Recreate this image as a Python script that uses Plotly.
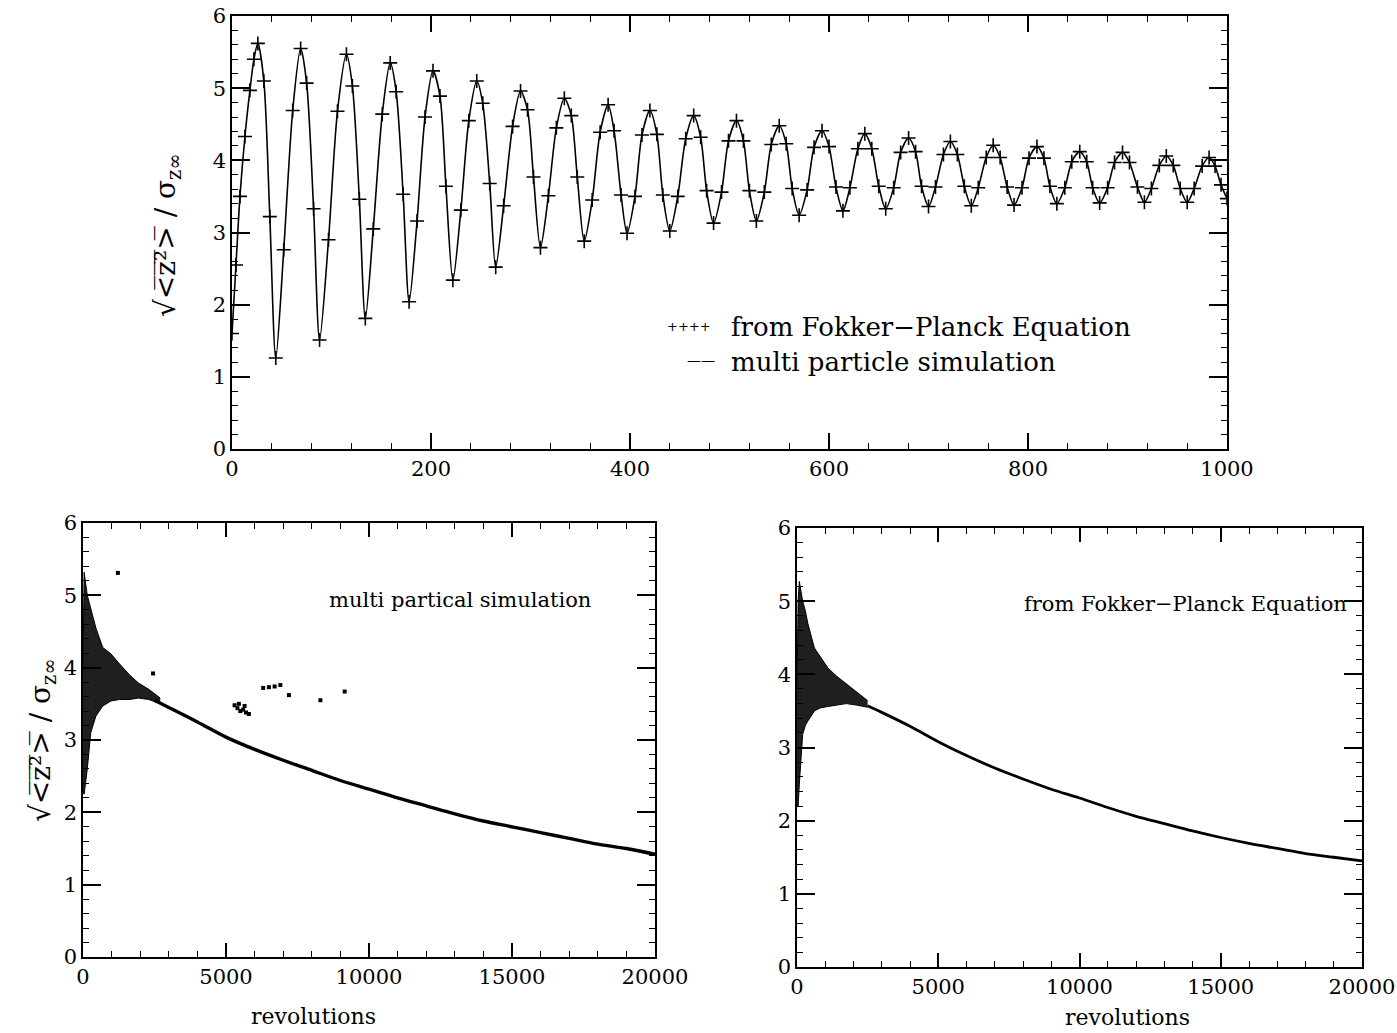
import plotly.graph_objects as go

# ---------------- top panel: first 1000 revolutions ----------------
top_rev = [0, 4, 8, 13, 18, 22,
           26, 32, 38, 44, 52, 61, 69, 75, 82, 88, 97, 106,
           115, 121, 128, 134, 142, 151, 159, 165, 172, 178, 186, 194,
           202, 209, 215, 222, 230, 238, 246, 252, 259, 265, 273, 282,
           290, 297, 303, 310, 318, 326, 334, 341, 347, 354, 362, 370,
           378, 384, 391, 397, 405, 412, 420, 427, 433, 440, 448, 456,
           464, 471, 477, 484, 492, 499, 507, 514, 520, 527, 535, 542,
           550, 557, 563, 570, 578, 585, 593, 600, 607, 614, 621, 629,
           636, 643, 650, 657, 665, 672, 680, 687, 693, 700, 707, 715,
           722, 729, 736, 743, 750, 758, 765, 772, 779, 786, 794, 801,
           809, 816, 822, 829, 837, 844, 852, 859, 865, 872, 880, 887,
           895, 902, 910, 917, 924, 932, 939, 946, 953, 960, 967, 975,
           982, 988, 994, 1000]
top_fokker_planck = [1.60, 2.55, 3.50, 4.33, 4.97, 5.40,
                     5.62, 5.10, 3.22, 1.26, 2.76, 4.69, 5.55, 5.07, 3.33, 1.51, 2.90, 4.68,
                     5.47, 5.03, 3.46, 1.81, 3.05, 4.64, 5.35, 4.95, 3.53, 2.04, 3.16, 4.60,
                     5.24, 4.89, 3.64, 2.34, 3.31, 4.55, 5.10, 4.79, 3.68, 2.52, 3.37, 4.47,
                     4.96, 4.70, 3.77, 2.79, 3.51, 4.45, 4.86, 4.62, 3.77, 2.88, 3.45, 4.39,
                     4.77, 4.41, 3.52, 2.99, 3.50, 4.35, 4.69, 4.36, 3.52, 3.02, 3.50, 4.30,
                     4.62, 4.32, 3.58, 3.13, 3.56, 4.27, 4.55, 4.27, 3.58, 3.16, 3.56, 4.22,
                     4.48, 4.23, 3.61, 3.24, 3.59, 4.18, 4.41, 4.19, 3.63, 3.30, 3.62, 4.16,
                     4.37, 4.16, 3.64, 3.33, 3.62, 4.11, 4.31, 4.12, 3.64, 3.36, 3.63, 4.08,
                     4.26, 4.08, 3.64, 3.37, 3.62, 4.04, 4.21, 4.04, 3.63, 3.38, 3.62, 4.03,
                     4.19, 4.03, 3.64, 3.40, 3.62, 3.98, 4.12, 3.98, 3.62, 3.41, 3.62, 3.97,
                     4.11, 3.97, 3.63, 3.42, 3.61, 3.93, 4.06, 3.93, 3.61, 3.42, 3.61, 3.92,
                     4.04, 3.92, 3.66, 3.47]
# the simulation line coincides with the Fokker-Planck points at this scale
top_simulation = top_fokker_planck

# ---------------- bottom left: multi particle simulation ----------------
sim_env_rev = [0, 40, 150, 270, 450, 690, 980, 1280, 1630, 1930, 2300, 2700]
sim_env_upper = [4.00, 5.32, 5.00, 4.82, 4.55, 4.28, 4.19, 4.05, 3.90, 3.79, 3.70, 3.58]
sim_env_lower = [2.30, 2.25, 2.60, 3.10, 3.33, 3.47, 3.54, 3.56, 3.56, 3.58, 3.56, 3.50]
sim_rev = [2500, 3000, 4000, 5000, 6000, 7000, 8000, 9000, 10000, 11000, 12000,
           13000, 14000, 15000, 16000, 17000, 18000, 19000, 20000]
sim_val = [3.55, 3.45, 3.25, 3.04, 2.87, 2.72, 2.58, 2.44, 2.32, 2.20, 2.09,
           1.98, 1.88, 1.80, 1.72, 1.64, 1.56, 1.50, 1.42]
# scan specks visible in the left panel
speck_rev = [5300, 5400, 5500, 5600, 5700, 5800, 5450, 5650, 6300, 6500, 6700, 6900, 7200,
             9150, 1220, 2450, 8300]
speck_val = [3.48, 3.44, 3.40, 3.42, 3.38, 3.36, 3.50, 3.47, 3.72, 3.73, 3.74, 3.76, 3.62,
             3.67, 5.31, 3.92, 3.55]

# ---------------- bottom right: Fokker-Planck ----------------
fp_env_rev = [0, 40, 83, 200, 296, 380, 616, 817, 1090, 1386, 1742, 2100, 2500]
fp_env_upper = [3.80, 5.00, 5.27, 5.00, 4.87, 4.70, 4.36, 4.25, 4.09, 3.98, 3.87, 3.76, 3.64]
fp_env_lower = [2.20, 2.20, 2.50, 3.18, 3.30, 3.36, 3.50, 3.54, 3.56, 3.58, 3.60, 3.58, 3.55]
fp_rev = [2500, 3000, 4000, 5000, 6000, 7000, 8000, 9000, 10000, 11000, 12000,
          13000, 14000, 15000, 16000, 17000, 18000, 19000, 20000]
fp_val = [3.57, 3.48, 3.29, 3.08, 2.89, 2.72, 2.57, 2.43, 2.31, 2.18, 2.06,
          1.96, 1.86, 1.77, 1.69, 1.62, 1.55, 1.50, 1.45]

FONT = "DejaVu Serif"
BLACK = "black"

fig = go.Figure()

# top panel
fig.add_trace(go.Scatter(x=top_rev, y=top_simulation, mode="lines",
                         line=dict(color=BLACK, width=1.6, shape="spline", smoothing=0.8),
                         xaxis="x", yaxis="y", showlegend=False, hoverinfo="skip"))
fig.add_trace(go.Scatter(x=top_rev, y=top_fokker_planck, mode="markers",
                         marker=dict(symbol="cross-thin", size=10, color=BLACK,
                                     line=dict(color=BLACK, width=1.6)),
                         xaxis="x", yaxis="y", showlegend=False, hoverinfo="skip"))

# bottom left
fig.add_trace(go.Scatter(x=sim_env_rev, y=sim_env_lower, mode="lines",
                         line=dict(color=BLACK, width=1), xaxis="x2", yaxis="y2",
                         showlegend=False, hoverinfo="skip"))
fig.add_trace(go.Scatter(x=sim_env_rev, y=sim_env_upper, mode="lines", fill="tonexty",
                         fillcolor="rgba(0,0,0,0.88)",
                         line=dict(color=BLACK, width=1), xaxis="x2", yaxis="y2",
                         showlegend=False, hoverinfo="skip"))
fig.add_trace(go.Scatter(x=sim_rev, y=sim_val, mode="lines",
                         line=dict(color=BLACK, width=3.4, shape="spline"),
                         xaxis="x2", yaxis="y2", showlegend=False, hoverinfo="skip"))
fig.add_trace(go.Scatter(x=speck_rev, y=speck_val, mode="markers",
                         marker=dict(symbol="square", size=4, color=BLACK),
                         xaxis="x2", yaxis="y2", showlegend=False, hoverinfo="skip"))

# bottom right
fig.add_trace(go.Scatter(x=fp_env_rev, y=fp_env_lower, mode="lines",
                         line=dict(color=BLACK, width=1), xaxis="x3", yaxis="y3",
                         showlegend=False, hoverinfo="skip"))
fig.add_trace(go.Scatter(x=fp_env_rev, y=fp_env_upper, mode="lines", fill="tonexty",
                         fillcolor="rgba(0,0,0,0.88)",
                         line=dict(color=BLACK, width=1), xaxis="x3", yaxis="y3",
                         showlegend=False, hoverinfo="skip"))
fig.add_trace(go.Scatter(x=fp_rev, y=fp_val, mode="lines",
                         line=dict(color=BLACK, width=2.8, shape="spline"),
                         xaxis="x3", yaxis="y3", showlegend=False, hoverinfo="skip"))


def axis(domain, rng, dtick, minor_dtick, anchor, ticklen=14):
    return dict(domain=domain, range=rng, dtick=dtick, tick0=0, anchor=anchor,
                tickformat="d", automargin=False,
                showline=True, linecolor=BLACK, linewidth=1.6, mirror="allticks",
                ticks="inside", ticklen=ticklen, tickwidth=1.5, tickcolor=BLACK,
                minor=dict(ticks="inside", ticklen=6, tickwidth=1.2, dtick=minor_dtick,
                           tick0=0, tickcolor=BLACK),
                showgrid=False, zeroline=False, fixedrange=True,
                tickfont=dict(family=FONT, size=21, color=BLACK))


W, H = 1397, 1033
fig.update_layout(
    width=W, height=H,
    margin=dict(l=0, r=0, t=0, b=0, autoexpand=False),
    paper_bgcolor="white", plot_bgcolor="white",
    xaxis=axis([232 / W, 1227 / W], [0, 1000], 200, 40, "y", ticklen=16),
    yaxis=axis([1 - 449 / H, 1 - 16 / H], [0, 6], 1, 0.2, "x", ticklen=18),
    xaxis2=axis([83 / W, 655 / W], [0, 20000], 5000, 1000, "y2"),
    yaxis2=axis([1 - 957 / H, 1 - 523 / H], [0, 6], 1, 0.2, "x2", ticklen=18),
    xaxis3=axis([797 / W, 1362 / W], [0, 20000], 5000, 1000, "y3"),
    yaxis3=axis([1 - 967 / H, 1 - 528 / H], [0, 6], 1, 0.2, "x3", ticklen=18),
    showlegend=False,
)

ylabel = "√&lt;̅z̅²̅&gt;̅ / σ<sub>z∞</sub>"
ann = []
ann.append(dict(text=ylabel, x=168 / W, y=1 - 235 / H, xref="paper", yref="paper",
                textangle=-90, showarrow=False, xanchor="center", yanchor="middle",
                font=dict(family=FONT, size=28, color=BLACK)))
ann.append(dict(text=ylabel, x=42 / W, y=1 - 740 / H, xref="paper", yref="paper",
                textangle=-90, showarrow=False, xanchor="center", yanchor="middle",
                font=dict(family=FONT, size=28, color=BLACK)))
# legend of top panel
ann.append(dict(text="++++", x=665 / W, y=1 - 326 / H, xref="paper", yref="paper",
                showarrow=False, xanchor="left", yanchor="middle",
                font=dict(family=FONT, size=13, color=BLACK)))
ann.append(dict(text="from Fokker−Planck Equation", x=729 / W, y=1 - 327 / H,
                xref="paper", yref="paper", showarrow=False, xanchor="left",
                yanchor="middle", font=dict(family=FONT, size=26, color=BLACK)))
ann.append(dict(text="——", x=685 / W, y=1 - 360 / H, xref="paper", yref="paper",
                showarrow=False, xanchor="left", yanchor="middle",
                font=dict(family=FONT, size=14, color=BLACK)))
ann.append(dict(text="multi particle simulation", x=729 / W, y=1 - 362 / H,
                xref="paper", yref="paper", showarrow=False, xanchor="left",
                yanchor="middle", font=dict(family=FONT, size=26, color=BLACK)))
# panel titles
ann.append(dict(text="multi partical simulation", x=460 / W, y=1 - 600 / H,
                xref="paper", yref="paper", showarrow=False, xanchor="center",
                yanchor="middle", font=dict(family=FONT, size=21, color=BLACK)))
ann.append(dict(text="from Fokker−Planck Equation", x=1185 / W, y=1 - 604 / H,
                xref="paper", yref="paper", showarrow=False, xanchor="center",
                yanchor="middle", font=dict(family=FONT, size=21, color=BLACK)))
# x titles
ann.append(dict(text="revolutions", x=313 / W, y=1 - 1016 / H, xref="paper", yref="paper",
                showarrow=False, xanchor="center", yanchor="middle",
                font=dict(family=FONT, size=22, color=BLACK)))
ann.append(dict(text="revolutions", x=1127 / W, y=1 - 1017 / H, xref="paper", yref="paper",
                showarrow=False, xanchor="center", yanchor="middle",
                font=dict(family=FONT, size=22, color=BLACK)))
fig.update_layout(annotations=ann)

fig.write_html("out.html")
